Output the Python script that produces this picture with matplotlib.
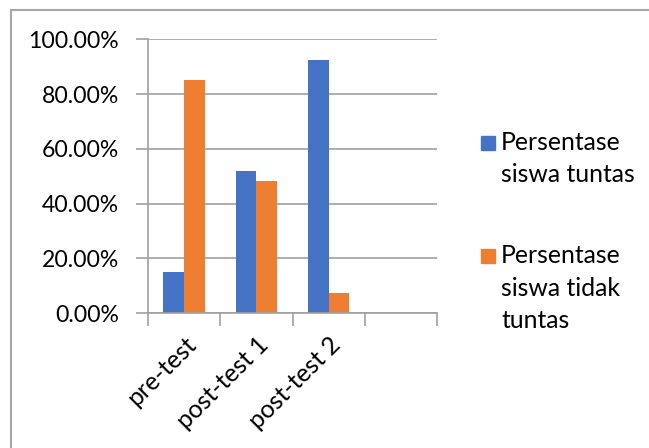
import matplotlib.pyplot as plt
import numpy as np
from matplotlib.patches import Rectangle
from matplotlib.ticker import PercentFormatter
from matplotlib.transforms import ScaledTranslation

# data
categories = ["pre-test", "post-test 1", "post-test 2", ""]
tuntas = [14.81, 51.85, 92.59, np.nan]
tidak_tuntas = [85.19, 48.15, 7.41, np.nan]
series_labels = ["Persentase\nsiswa tuntas", "Persentase\nsiswa tidak\ntuntas"]
series_colors = ["#4472C4", "#ED7D31"]

plt.rcParams["font.family"] = ["Lato", "DejaVu Sans"]
fs = 17.8
fs_tick = 16.6
grid_c = "#A0A0A0"

W, H = 649, 448
fig = plt.figure(figsize=(W / 100, H / 100), dpi=100)
ax = fig.add_axes([148 / W, 135 / H, 289 / W, 273.5 / H])

x = np.arange(len(categories))
bw = 0.286
ax.bar(x - bw / 2, tuntas, bw, color=series_colors[0])
ax.bar(x + bw / 2, tidak_tuntas, bw, color=series_colors[1])

ax.set_xlim(-0.5, len(categories) - 0.5)
ax.set_ylim(0, 100)
ax.set_yticks(np.arange(0, 101, 20))
ax.yaxis.set_major_formatter(PercentFormatter(decimals=2))
ax.set_axisbelow(True)
ax.grid(axis="y", color=grid_c, lw=1.2)

# category ticks on the boundaries, labels at the centres
ax.set_xticks(np.arange(-0.5, len(categories)), minor=False)
ax.set_xticklabels([])
ax.set_xticks(x, minor=True)
ax.set_xticklabels(categories, minor=True, rotation=45, ha="right",
                   va="top", rotation_mode="anchor", fontsize=fs)
shift = ScaledTranslation(1 / 100, 0, fig.dpi_scale_trans)
for lbl in ax.get_xticklabels(minor=True):
    lbl.set_transform(lbl.get_transform() + shift)
ax.tick_params(axis="x", which="major", length=9, width=1.2, color=grid_c)
ax.tick_params(axis="x", which="minor", length=0, pad=14)
ax.tick_params(axis="y", length=9, width=1.2, color=grid_c,
               labelsize=fs_tick, pad=12)

for s in ["top", "right"]:
    ax.spines[s].set_visible(False)
for s in ["left", "bottom"]:
    ax.spines[s].set_color(grid_c)
    ax.spines[s].set_linewidth(1.2)

# legend
ys = [143, 256]
for lab, col, yc in zip(series_labels, series_colors, ys):
    fig.add_artist(Rectangle((481 / W, 1 - (yc + 7) / H), 14 / W, 14 / H,
                             transform=fig.transFigure, color=col))
    fig.text(501 / W, 1 - (yc - 12) / H, lab, fontsize=fs, va="top",
             ha="left", linespacing=1.5)

# chart frame
fig.add_artist(Rectangle((11 / W, -0.1), 1.2, 1 - 10 / H + 0.1,
                         transform=fig.transFigure, fill=False,
                         edgecolor="#A6A6A6", lw=1.5))

fig.savefig("out.png", dpi=100)
